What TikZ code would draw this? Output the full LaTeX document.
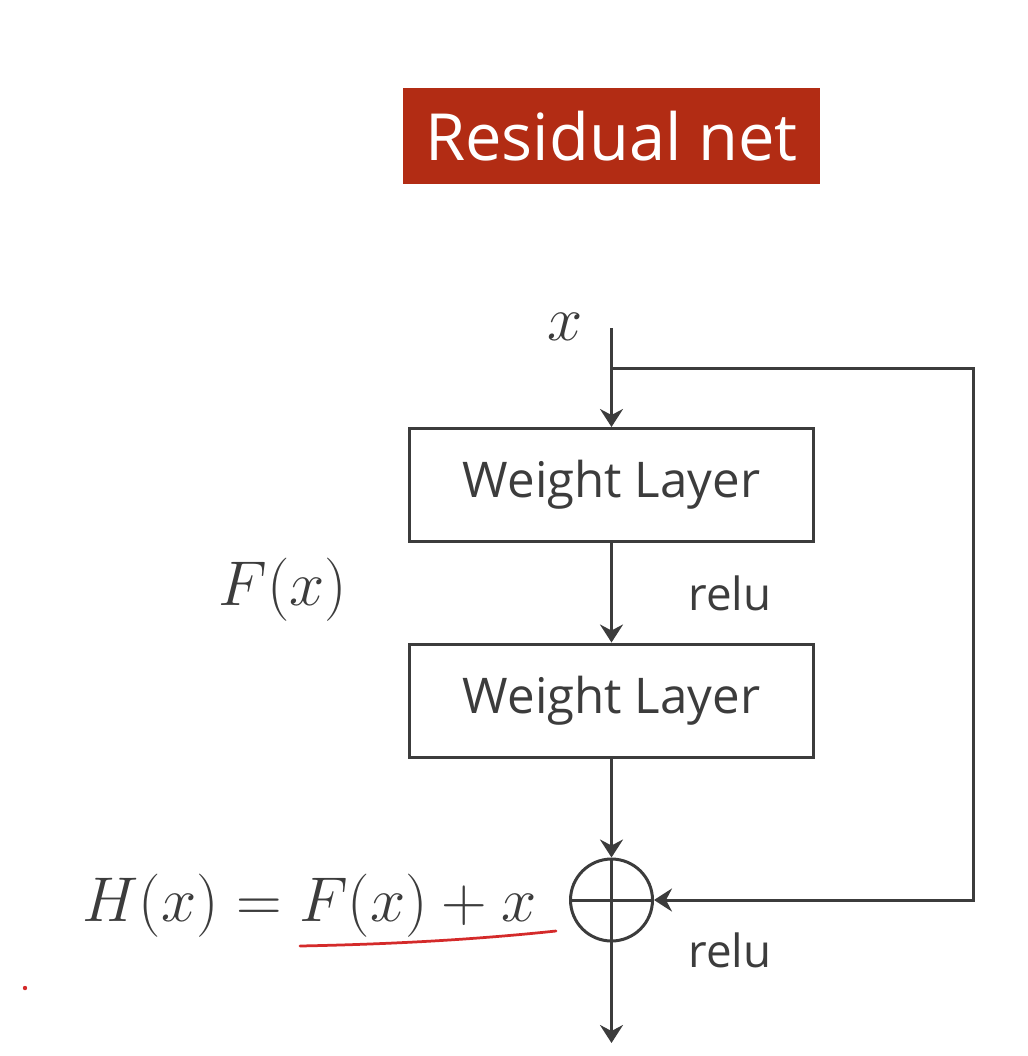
\RequirePackage{fix-cm}
\documentclass[tikz,border=0pt]{standalone}
\usepackage{amsmath,amssymb}
\usepackage{fontspec}
\usepackage{tikz}
\usetikzlibrary{positioning,arrows.meta,calc}
\newfontfamily\uifont{Open Sans}
\definecolor{titlered}{HTML}{B22C14}
\definecolor{linegray}{HTML}{3C3C3C}
\definecolor{penred}{HTML}{D42A2A}
\newcommand{\mathsz}{\fontsize{36}{40}\selectfont}

\begin{document}
\begin{tikzpicture}[x=0.02cm,y=-0.02cm,
  wire/.style={draw=linegray,line width=0.06cm},
  flow/.style={wire,-{Stealth[length=0.36cm,width=0.46cm,inset=0.12cm]}},
  layerbox/.style={draw=linegray,line width=0.06cm,minimum width=8.1cm,minimum height=2.26cm,
    font=\uifont\fontsize{28}{32}\selectfont,text=linegray},
  actlabel/.style={font=\uifont\fontsize{26}{30}\selectfont,text=linegray},
  mathlabel/.style={font=\mathsz,text=linegray}]
\useasboundingbox (0,0) rectangle (1028,1056);
% --- title ---
\node[fill=titlered,text=white,minimum width=8.34cm,minimum height=1.92cm,
  font=\uifont\fontsize{37}{42}\selectfont] (title) at (611.5,136) {Residual net};
% --- blocks ---
\node[layerbox] (wl1) at (611.5,485) {\raisebox{-0.15cm}{Weight Layer}};
\node[layerbox] (wl2) at (611.5,700.5) {\raisebox{-0.15cm}{Weight Layer}};
\node[draw=linegray,line width=0.06cm,circle,minimum size=1.64cm] (sum) at (611.5,900) {};
\draw[wire] (sum.west) -- (sum.east);
% --- input and skip path ---
\coordinate (xtop) at (611.5,328);
\coordinate (split) at (611.5,368);
\coordinate (skipr) at (973,368);
\coordinate (skipb) at (973,900);
\coordinate (out) at (611.5,1043);
\node[mathlabel,anchor=base] (xin) at (565,340) {$x$};
\draw[wire] (xtop) -- (split);
\draw[flow] (split) -- (wl1.north);
\draw[wire,line join=miter] (split) -- (skipr) -- (skipb) -- ($(sum.east)+(14,0)$);
\draw[flow] (skipb) -- (sum.east);
% --- main path ---
\draw[flow] (wl1.south) -- (wl2.north);
\draw[flow] (wl2.south) -- (sum.north);
\draw[wire] (sum.north) -- (sum.south);
\draw[flow] (sum.south) -- (out);
% --- labels ---
\node[mathlabel,anchor=base] (fx) at (283,605) {$F(x)$};
\node[actlabel,anchor=base] (relu1) at (730,610) {relu};
\node[actlabel,anchor=base] (relu2) at (730,967) {relu};
\node[mathlabel,anchor=base east] (hx) at (543,921) {$H(x)=F(x)+x$};
% red pen marks
\draw[penred,line width=0.055cm,line cap=round] (300,946) .. controls (400,944) and (480,939) .. (556,931);
\fill[penred] (25,988) circle (2.2);
\end{tikzpicture}
\end{document}
